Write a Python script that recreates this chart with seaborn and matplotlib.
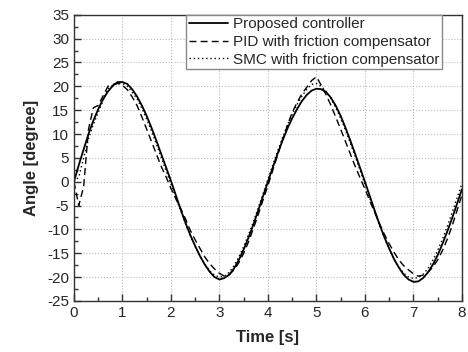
import numpy as np
import pandas as pd
import matplotlib
matplotlib.use("Agg")
import matplotlib.pyplot as plt
from matplotlib.ticker import MultipleLocator
import seaborn as sns

# sample times [s]
time_s = [round(0.1 * i, 1) for i in range(81)]

proposed = [
    0.0, 3.5, 6.8, 10.0, 12.8, 15.2, 17.3, 18.9, 20.1, 20.9,
    20.9, 20.5, 19.4, 17.9, 16.0, 13.8, 11.3, 8.6, 5.8, 3.0,
    0.2, -2.8, -5.8, -8.6, -11.2, -13.5, -15.6, -17.4, -18.9, -20.0,
    -20.5, -20.2, -19.5, -18.2, -16.4, -14.2, -11.7, -9.0, -6.0, -3.0,
    0.0, 3.0, 5.9, 8.6, 11.1, 13.3, 15.2, 16.9, 18.2, 19.1,
    19.5, 19.4, 18.8, 17.6, 15.9, 13.8, 11.3, 8.6, 5.8, 2.9,
    0.0, -3.0, -6.0, -8.9, -11.6, -14.0, -16.2, -18.0, -19.5, -20.5,
    -21.0, -20.9, -20.2, -19.0, -17.4, -15.4, -13.0, -10.4, -7.6, -4.6,
    -1.6,
]

pid = [
    0.0, -5.0, -1.0, 11.0, 15.5, 16.0, 18.0, 20.0, 20.4, 20.6,
    20.2, 19.3, 17.8, 16.0, 13.6, 11.0, 8.4, 5.8, 3.2, 1.0,
    -1.4, -3.6, -5.6, -7.8, -10.2, -12.2, -14.0, -15.8, -17.2, -18.3,
    -19.2, -19.8, -19.5, -18.5, -17.0, -15.0, -12.6, -9.8, -6.9, -3.8,
    -0.8, 2.4, 5.6, 8.8, 11.8, 14.5, 16.6, 18.4, 19.8, 21.2,
    22.0, 20.2, 18.2, 16.0, 13.5, 11.0, 8.4, 5.8, 3.2, 0.8,
    -1.5, -4.0, -6.4, -8.8, -11.0, -13.0, -14.8, -16.4, -17.6, -18.5,
    -19.3, -19.8, -19.6, -19.0, -17.9, -16.4, -14.4, -12.0, -9.2, -6.0,
    -2.8,
]

smc = [
    0.0, 1.0, 5.0, 9.0, 12.0, 14.5, 17.0, 19.5, 20.2, 20.6,
    20.6, 20.0, 18.8, 17.4, 15.4, 13.1, 10.6, 7.9, 5.1, 2.3,
    -0.5, -3.3, -6.0, -8.8, -11.3, -13.6, -15.6, -17.3, -18.7, -19.6,
    -20.0, -19.8, -19.0, -17.6, -15.8, -13.6, -11.1, -8.4, -5.5, -2.5,
    0.5, 3.5, 6.4, 9.2, 11.8, 14.1, 16.2, 17.9, 19.4, 20.4,
    20.6, 20.0, 18.9, 17.4, 15.5, 13.3, 10.8, 8.1, 5.3, 2.4,
    -0.5, -3.4, -6.3, -9.1, -11.7, -14.1, -16.2, -17.9, -19.2, -20.0,
    -20.3, -20.1, -19.4, -18.2, -16.5, -14.4, -12.0, -9.3, -6.4, -3.4,
    -0.4,
]

labels = ["Proposed controller", "PID with friction compensator",
          "SMC with friction compensator"]

sns.set_style("ticks")
plt.rcParams["font.family"] = ["Liberation Sans", "DejaVu Sans"]
plt.rcParams["axes.linewidth"] = 1.0
plt.rcParams["axes.unicode_minus"] = False

fig = plt.figure(figsize=(4.68, 3.52), dpi=100)
ax = fig.add_axes([0.158, 0.145, 0.829, 0.813])

sns.lineplot(x=time_s, y=proposed, ax=ax, color="black", lw=1.3,
             linestyle="-", label=labels[0])
sns.lineplot(x=time_s, y=pid, ax=ax, color="black", lw=1.0,
             label=labels[1])
sns.lineplot(x=time_s, y=smc, ax=ax, color="black", lw=1.0,
             label=labels[2])
ax.lines[1].set_dashes((5, 3))
ax.lines[2].set_dashes((1, 2))

ax.set_xlim(0, 8)
ax.set_ylim(-25, 35)
ax.xaxis.set_major_locator(MultipleLocator(1))
ax.xaxis.set_minor_locator(MultipleLocator(0.5))
ax.yaxis.set_major_locator(MultipleLocator(5))
ax.yaxis.set_minor_locator(MultipleLocator(2.5))
ax.tick_params(which="both", direction="in", top=False, right=False,
               labelsize=11, color="#333333")
ax.tick_params(which="major", length=5, width=1)
ax.tick_params(which="minor", length=3, width=1)
ax.grid(True, which="major", linestyle=":", color="#bbbbbb", lw=0.8)
for s in ax.spines.values():
    s.set_color("#333333")

ax.set_xlabel("Time [s]", fontsize=12, fontweight="bold", labelpad=7)
ax.set_ylabel("Angle [degree]", fontsize=12, fontweight="bold", labelpad=6)

leg = ax.legend(loc="upper right", bbox_to_anchor=(0.948, 1.0), fontsize=11,
                fancybox=False, framealpha=1, edgecolor="#888888",
                handlelength=2.6, labelspacing=0.25, borderpad=0.15,
                handletextpad=0.3, borderaxespad=0)
leg.get_frame().set_linewidth(1.0)

fig.savefig("out.png", dpi=100)
